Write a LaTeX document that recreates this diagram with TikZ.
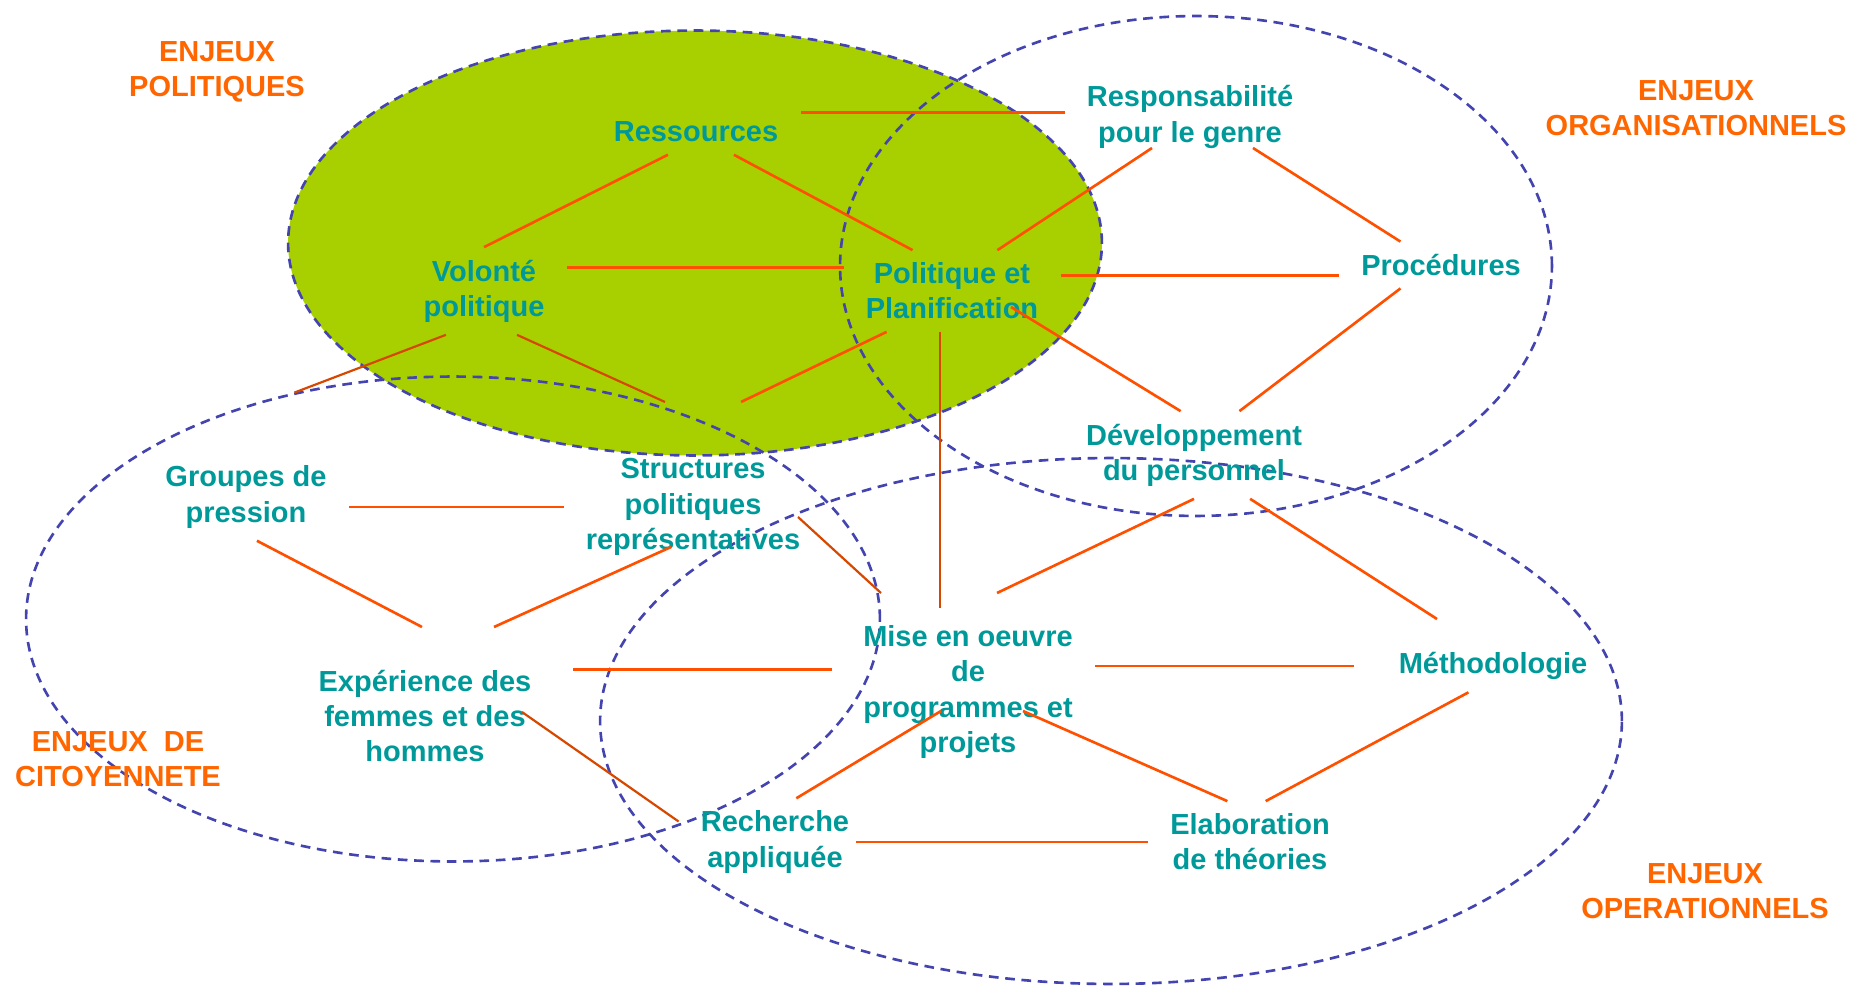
\documentclass[tikz,border=0pt]{standalone}
\usepackage{fontspec}
\setmainfont{Liberation Sans}
\usetikzlibrary{shapes.geometric,calc}
\definecolor{themeteal}{RGB}{0,153,153}
\definecolor{enjeuorange}{RGB}{255,102,0}
\definecolor{linkred}{RGB}{255,80,0}
\definecolor{linkdeep}{RGB}{214,72,0}
\definecolor{zoneblue}{RGB}{68,68,176}
\definecolor{polgreen}{RGB}{168,208,0}
\tikzset{
	theme/.style={align=center, text=themeteal, font=\fontsize{16.5}{20}\selectfont\bfseries, inner xsep=12.5pt, inner ysep=7pt},
	enjeu/.style={align=center, text=enjeuorange, font=\fontsize{16.5}{20}\selectfont\bfseries},
	zone/.style={shape=ellipse, draw=zoneblue, line width=1.5pt, dash pattern=on 5.5pt off 3.8pt, inner sep=0pt},
	link/.style={draw=linkred, line width=1.5pt},
	deeplink/.style={draw=linkdeep, line width=1.25pt}
}
\begin{document}
\begin{tikzpicture}[x=0.02cm, y=-0.02cm]
		\useasboundingbox (0,0) rectangle (1852,986);
		% Zones
		\node[zone, fill=polgreen, minimum width=16.28cm, minimum height=8.5cm] (polZone) at (695,243) {};
		\node[zone, minimum width=14.24cm, minimum height=10cm] (orgZone) at (1196,266) {};
		\node[zone, minimum width=17.08cm, minimum height=9.7cm] (citZone) at (453,619) {};
		\node[zone, minimum width=20.44cm, minimum height=10.52cm] (opeZone) at (1111,721) {};
		% Enjeux
		\node[enjeu] (polLab) at (217,72) {ENJEUX\\POLITIQUES};
		\node[enjeu] (orgLab) at (1696,108) {ENJEUX\\ORGANISATIONNELS};
		\node[enjeu] (citLab) at (118,759) {ENJEUX\ \ DE\\CITOYENNETE};
		\node[enjeu] (opeLab) at (1705,891) {ENJEUX\\OPERATIONNELS};
		% Themes
		\node[theme] (Ress) at (696,132) {Ressources};
		\node[theme] (Resp) at (1190,117) {Responsabilité\\pour le genre};
		\node[theme] (Vol) at (484,291) {Volonté\\politique};
		\node[theme] (Pol) at (952,291) {Politique et\\Planification};
		\node[theme] (Proc) at (1441,265) {Procédures};
		\node[theme] (Dev) at (1194,455) {Développement\\du personnel};
		\node[theme] (Grp) at (246,497) {Groupes de\\pression};
		\node[theme] (Str) at (693,507) {Structures\\politiques\\représentatives};
		\node[theme] (Mise) at (968,692) {Mise en oeuvre\\de\\programmes et\\projets};
		\node[theme] (Meth) at (1493,666) {Méthodologie};
		\node[theme] (Exp) at (425,716) {Expérience des\\femmes et des\\hommes};
		\node[theme] (Rech) at (775,842) {Recherche\\appliquée};
		\node[theme] (Elab) at (1250,842) {Elaboration\\de théories};
		% Connections
		%% Horizontal
		\draw[link] (Resp.178) -- (Resp.178 -| Ress.east);
		\draw[link] (Vol.16) -- (Vol.16 -| Pol.west);
		\draw[link] (Pol.8) -- (Pol.8 -| Proc.west);
		\draw[link] (Str.west) -- (Str.west -| Grp.east);
		\draw[link, shorten <=5pt, shorten >=11pt] (Mise.170) -- (Mise.170 -| Exp.east);
		\draw[link, shorten <=13pt] (Meth.west) -- (Meth.west -| Mise.east);
		\draw[link, shorten <=-9pt] (Rech.east) -- (Elab.west);
		%% Slanted
		\draw[link] (Ress.219) -- (Vol.north);
		\draw[link] (Ress.329) -- (Pol.134);
		\draw[link] ($(Resp)+(-38,31)$) -- (Pol.42);
		\draw[link] ($(Resp)+(63,31)$) -- (Proc.150);
		\draw[link] (Proc.210) -- (Dev.44);
		\draw[link] ($(Pol)+(59,16)$) -- (Dev.107);
		\draw[deeplink] (Vol.229) -- (citZone.125);
		\draw[deeplink] (Vol.307) -- ($(Str)+(-28,-105)$);
		\draw[link] (Pol.212) -- ($(Str)+(48,-105)$);
		\draw[deeplink, shorten >=3pt] (Pol.254) -- (Pol.254 |- Mise.north);
		\draw[link] (Grp.284) -- ($(Exp)+(-3,-89)$);
		\draw[link] ($(Str)+(-22,40)$) -- ($(Exp)+(69,-89)$);
		\draw[deeplink] ($(Str)+(105,10)$) -- ($(Mise)+(-87,-99)$);
		\draw[link] (Dev.south) -- ($(Mise)+(29,-99)$);
		\draw[link] (Dev.322) -- ($(Meth)+(-56,-47)$);
		\draw[deeplink] ($(Exp)+(97,-4)$) -- (Rech.168);
		\draw[link] ($(Mise)+(-27,19)$) -- (Rech.64);
		\draw[link] ($(Mise)+(55,19)$) -- (Elab.119);
		\draw[link] (Meth.227) -- (Elab.69);
	\end{tikzpicture}
\end{document}
